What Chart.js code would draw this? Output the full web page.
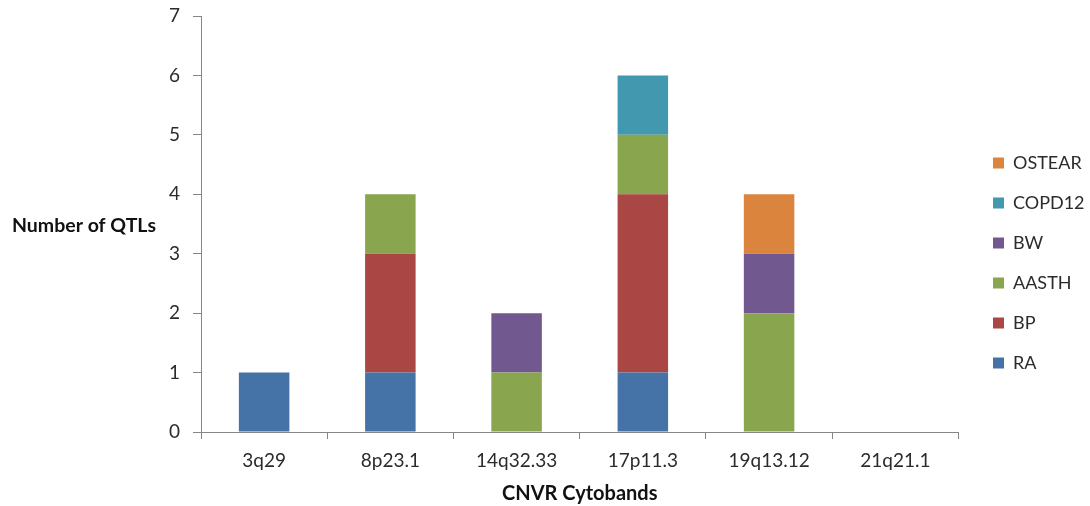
<!DOCTYPE html>
<html>
<head>
<meta charset="utf-8">
<script src="https://cdn.jsdelivr.net/npm/chart.js@4"></script>
<style>
  html, body { margin: 0; padding: 0; background: #fff; }
  #wrap { width: 1090px; height: 506px; }
</style>
</head>
<body>
<div id="wrap"><canvas id="qtl"></canvas></div>
<script>
const cytobands = ['3q29', '8p23.1', '14q32.33', '17p11.3', '19q13.12', '21q21.1'];
const ra     = [1, 1, 0, 1, 0, 0];
const bp     = [0, 2, 0, 3, 0, 0];
const aasth  = [0, 1, 1, 1, 2, 0];
const bw     = [0, 0, 1, 0, 1, 0];
const copd12 = [0, 0, 0, 1, 0, 0];
const ostear = [0, 0, 0, 0, 1, 0];
const yTicks = [0, 1, 2, 3, 4, 5, 6, 7];

const axisGray = '#868686';
const textColor = '#2b2b2b';
const font = 'Lato, "Open Sans", sans-serif';

// y title sits horizontally to the left of the axis
const sideTitle = {
  id: 'sideTitle',
  afterDraw(chart) {
    const { ctx, chartArea } = chart;
    ctx.save();
    ctx.font = 'bold 19.5px ' + font;
    ctx.fillStyle = '#111';
    ctx.textAlign = 'left';
    ctx.textBaseline = 'middle';
    ctx.fillText('Number of QTLs', 12, (chartArea.top + chartArea.bottom) / 2 + 2);
    ctx.restore();
  }
};

// nudge the legend column right/down a little
const legendNudge = {
  id: 'legendNudge',
  afterLayout(chart) {
    const lg = chart.legend;
    if (!lg) return;
    const dx = 993 - 22 - lg.left;
    lg.left += dx; lg.right += dx;
    lg.top += 2; lg.bottom += 2;
  }
};

const mk = (label, data, color) => ({
  label, data, backgroundColor: color, borderWidth: 0,
  barPercentage: 0.4, categoryPercentage: 1
});

new Chart(document.getElementById('qtl'), {
  type: 'bar',
  data: {
    labels: cytobands,
    datasets: [
      mk('RA', ra, '#4572A7'),
      mk('BP', bp, '#AA4643'),
      mk('AASTH', aasth, '#89A54E'),
      mk('BW', bw, '#71588F'),
      mk('COPD12', copd12, '#4198AF'),
      mk('OSTEAR', ostear, '#DB843D')
    ]
  },
  options: {
    responsive: true,
    maintainAspectRatio: false,
    animation: false,
    layout: { padding: { top: 16, right: 8, bottom: 0, left: 0 } },
    plugins: {
      tooltip: { enabled: false },
      legend: {
        position: 'right',
        reverse: true,
        labels: {
          boxWidth: 11, boxHeight: 11, padding: 22,
          color: textColor,
          font: { family: font, size: 18 }
        }
      }
    },
    scales: {
      x: {
        stacked: true,
        grid: { display: true, drawOnChartArea: false, drawTicks: true, tickLength: 7, color: axisGray, offset: true },
        border: { display: true, color: axisGray, width: 1 },
        ticks: { color: textColor, font: { family: font, size: 19 }, padding: 10 },
        title: { display: true, text: 'CNVR Cytobands', color: '#111', font: { family: font, size: 20, weight: 'bold' }, padding: { top: 6, bottom: 0 } },
        afterFit(scale) { scale.height = 74; scale.paddingLeft = 0; scale.paddingRight = 0; }
      },
      y: {
        stacked: true,
        min: 0, max: 7,
        afterBuildTicks(scale) { scale.ticks = yTicks.map(v => ({ value: v })); },
        grid: { display: true, drawOnChartArea: false, drawTicks: true, tickLength: 8, color: axisGray },
        border: { display: true, color: axisGray, width: 1 },
        ticks: { color: textColor, font: { family: font, size: 19 }, padding: 13 },
        afterFit(scale) { scale.width = 201; scale.paddingTop = 0; scale.paddingBottom = 0; }
      }
    }
  },
  plugins: [sideTitle, legendNudge]
});
</script>
</body>
</html>
